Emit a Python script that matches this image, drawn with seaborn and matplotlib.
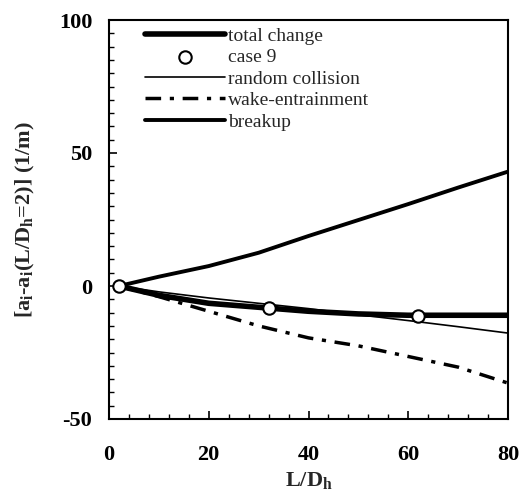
import matplotlib.pyplot as plt
import pandas as pd
import seaborn as sns
from matplotlib.ticker import MultipleLocator

# values
x_lines = [2, 10, 20, 30, 40, 50, 60, 70, 80]
total_change = [0, -3.5, -6.5, -8.0, -9.5, -10.5, -11.0, -11.0, -11.0]
random_collision = [0, -2.2, -4.5, -6.5, -8.5, -10.8, -13.0, -15.3, -17.7]
wake_entrainment = [0, -4.0, -9.5, -15.0, -19.5, -22.5, -26.5, -30.5, -36.5]
breakup = [0, 3.5, 7.5, 12.5, 18.8, 24.8, 30.8, 37.0, 43.0]

case9_x = [2, 32, 62]
case9_y = [0, -8.3, -11.3]

x_ticks = [0, 20, 40, 60, 80]
y_ticks = [-50, 0, 50, 100]

sns.set_style('ticks')
plt.rcParams['font.family'] = ['Liberation Serif', 'DejaVu Serif']
plt.rcParams['mathtext.fontset'] = 'custom'
plt.rcParams['mathtext.rm'] = 'Liberation Serif'
plt.rcParams['mathtext.bf'] = 'Liberation Serif:bold'
plt.rcParams['mathtext.it'] = 'Liberation Serif:italic'
plt.rcParams['axes.unicode_minus'] = False

df = pd.DataFrame({'x': x_lines, 'total': total_change, 'random': random_collision,
                   'wake': wake_entrainment, 'breakup': breakup})
pts = pd.DataFrame({'x': case9_x, 'y': case9_y})

fig = plt.figure(figsize=(5.28, 4.92), dpi=100)
ax = fig.add_axes([109 / 528, 1 - 419 / 492, 399 / 528, 399 / 492])

sns.lineplot(data=df, x='x', y='total', ax=ax, color='black', lw=4, label='total change')
sns.scatterplot(data=pts, x='x', y='y', ax=ax, marker='o', s=80, facecolor='white',
                edgecolor='black', linewidth=1.5, zorder=5, label='case 9')
sns.lineplot(data=df, x='x', y='random', ax=ax, color='black', lw=1.2, label='random collision')
sns.lineplot(data=df, x='x', y='wake', ax=ax, color='black', lw=2.5,
             linestyle=(0, (4.5, 2.5, 1.2, 2.5)), label='wake-entrainment')
sns.lineplot(data=df, x='x', y='breakup', ax=ax, color='black', lw=2.8, label='breakup')

ax.set_xlim(0, 80)
ax.set_ylim(-50, 100)
ax.set_xticks(x_ticks)
ax.set_yticks(y_ticks)
ax.xaxis.set_minor_locator(MultipleLocator(4))
ax.yaxis.set_minor_locator(MultipleLocator(5))
ax.tick_params(which='both', direction='in', colors='black')
ax.tick_params(which='major', length=6, width=1.2)
ax.tick_params(which='minor', length=3.5, width=1)
ax.tick_params(axis='x', which='major', pad=19, labelsize=16)
ax.tick_params(axis='y', which='major', pad=12, labelsize=16)
for lab in ax.get_xticklabels() + ax.get_yticklabels():
    lab.set_fontweight('bold')
for sp in ax.spines.values():
    sp.set_linewidth(1.5)
    sp.set_color('black')

ax.set_xlabel(r'L/D$_{\mathbf{h}}$', fontsize=16, fontweight='bold')
ax.set_ylabel(r'[a$_{\mathbf{i}}$-a$_{\mathbf{i}}$(L/D$_{\mathbf{h}}$=2)] (1/m)',
              fontsize=16, fontweight='bold')
ax.xaxis.set_label_coords(0.5, -0.128)
ax.yaxis.set_label_coords(-0.18, 0.5)

ax.legend(loc='upper left', bbox_to_anchor=(145 / 528, 1 - 27 / 492),
          bbox_transform=fig.transFigure, frameon=False, fontsize=14,
          handlelength=4.1, handletextpad=0.15, labelspacing=0.2,
          borderpad=0, borderaxespad=0)

fig.savefig('out.png', dpi=100)
